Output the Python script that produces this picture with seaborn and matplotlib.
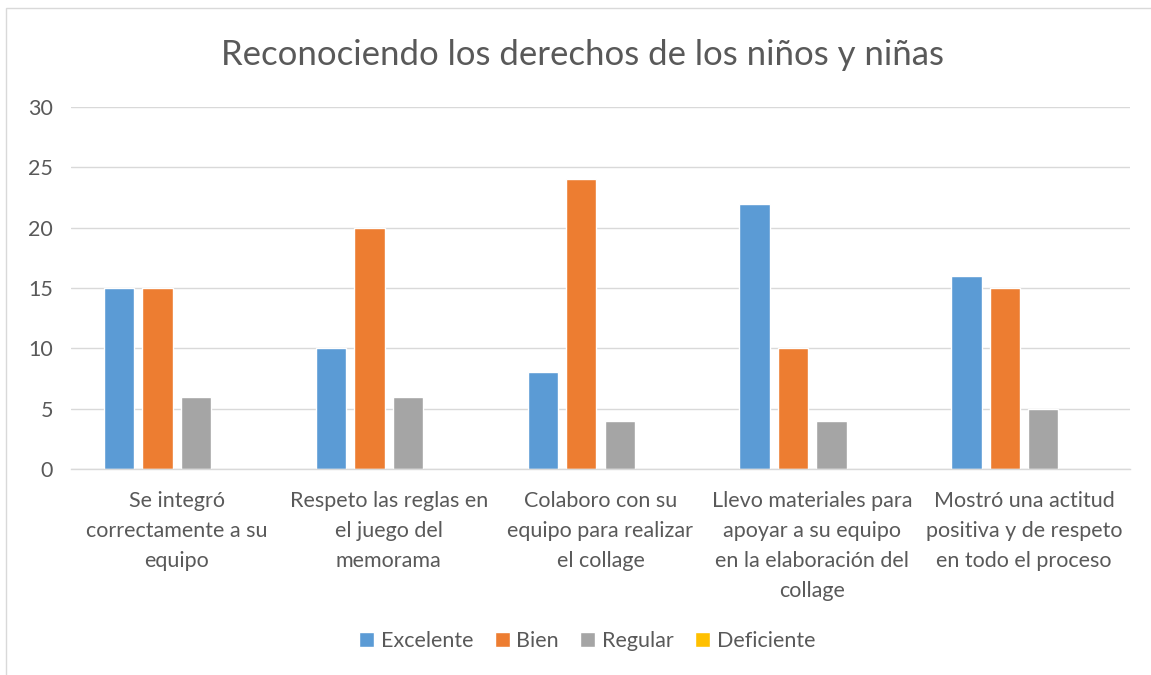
import pandas as pd
import seaborn as sns
import matplotlib.pyplot as plt
from matplotlib.patches import Rectangle

# Data
categorias = [
    "Se integró\ncorrectamente a su\nequipo",
    "Respeto las reglas en\nel juego del\nmemorama",
    "Colaboro con su\nequipo para realizar\nel collage",
    "Llevo materiales para\napoyar a su equipo\nen la elaboración del\ncollage",
    "Mostró una actitud\npositiva y de respeto\nen todo el proceso",
]
series = ["Excelente", "Bien", "Regular", "Deficiente"]
excelente = [15, 10, 8, 22, 16]
bien = [15, 20, 24, 10, 15]
regular = [6, 6, 4, 4, 5]
deficiente = [0, 0, 0, 0, 0]
y_ticks = [0, 5, 10, 15, 20, 25, 30]

colores = ["#5B9BD5", "#ED7D31", "#A5A5A5", "#FFC000"]
texto = "#595959"
grid = "#D9D9D9"

df = pd.DataFrame({
    "categoria": categorias * 4,
    "serie": [s for s in series for _ in categorias],
    "valor": excelente + bien + regular + deficiente,
})

sns.set_theme(style="white")
plt.rcParams["font.family"] = ["Lato", "DejaVu Sans"]

fig = plt.figure(figsize=(11.51, 6.75), dpi=100)
ax = fig.add_axes([0.0617, 0.3052, 0.92, 0.5363])

sns.barplot(data=df, x="categoria", y="valor", hue="serie", order=categorias,
            hue_order=series, palette=colores, width=0.727, gap=0.21,
            saturation=1, ax=ax, legend=False)

ax.set_ylim(0, 30)
ax.set_yticks(y_ticks)
ax.set_xlim(-0.5, 4.5)
ax.yaxis.grid(True, color=grid, linewidth=1)
ax.set_axisbelow(True)
for side in ["top", "right", "left"]:
    ax.spines[side].set_visible(False)
ax.spines["bottom"].set_color(grid)
ax.spines["bottom"].set_linewidth(1)
ax.set_xlabel("")
ax.set_ylabel("")
ax.tick_params(axis="both", length=0, colors=texto)
ax.tick_params(axis="y", pad=13, labelsize=15.5)
ax.tick_params(axis="x", pad=16, labelsize=15.5)
for lbl in ax.get_xticklabels():
    lbl.set_linespacing(1.62)

fig.suptitle("Reconociendo los derechos de los niños y niñas", x=0.506, y=0.942,
             fontsize=25, color=texto)

handles = [Rectangle((0, 0), 1, 1, facecolor=c) for c in colores]
fig.legend(handles, series, loc="center", bbox_to_anchor=(0.51, 0.05), ncol=4,
           frameon=False, fontsize=15.5, labelcolor=texto, handlelength=0.7,
           handleheight=0.7, handletextpad=0.3, columnspacing=1.0)

# light chart-area border like the spreadsheet export
fig.patches.append(Rectangle((6 / 1151, -0.1), 1.2, 0.988 + 0.1,
                             transform=fig.transFigure, fill=False,
                             edgecolor=grid, linewidth=1))

fig.savefig("out.png", dpi=100)
